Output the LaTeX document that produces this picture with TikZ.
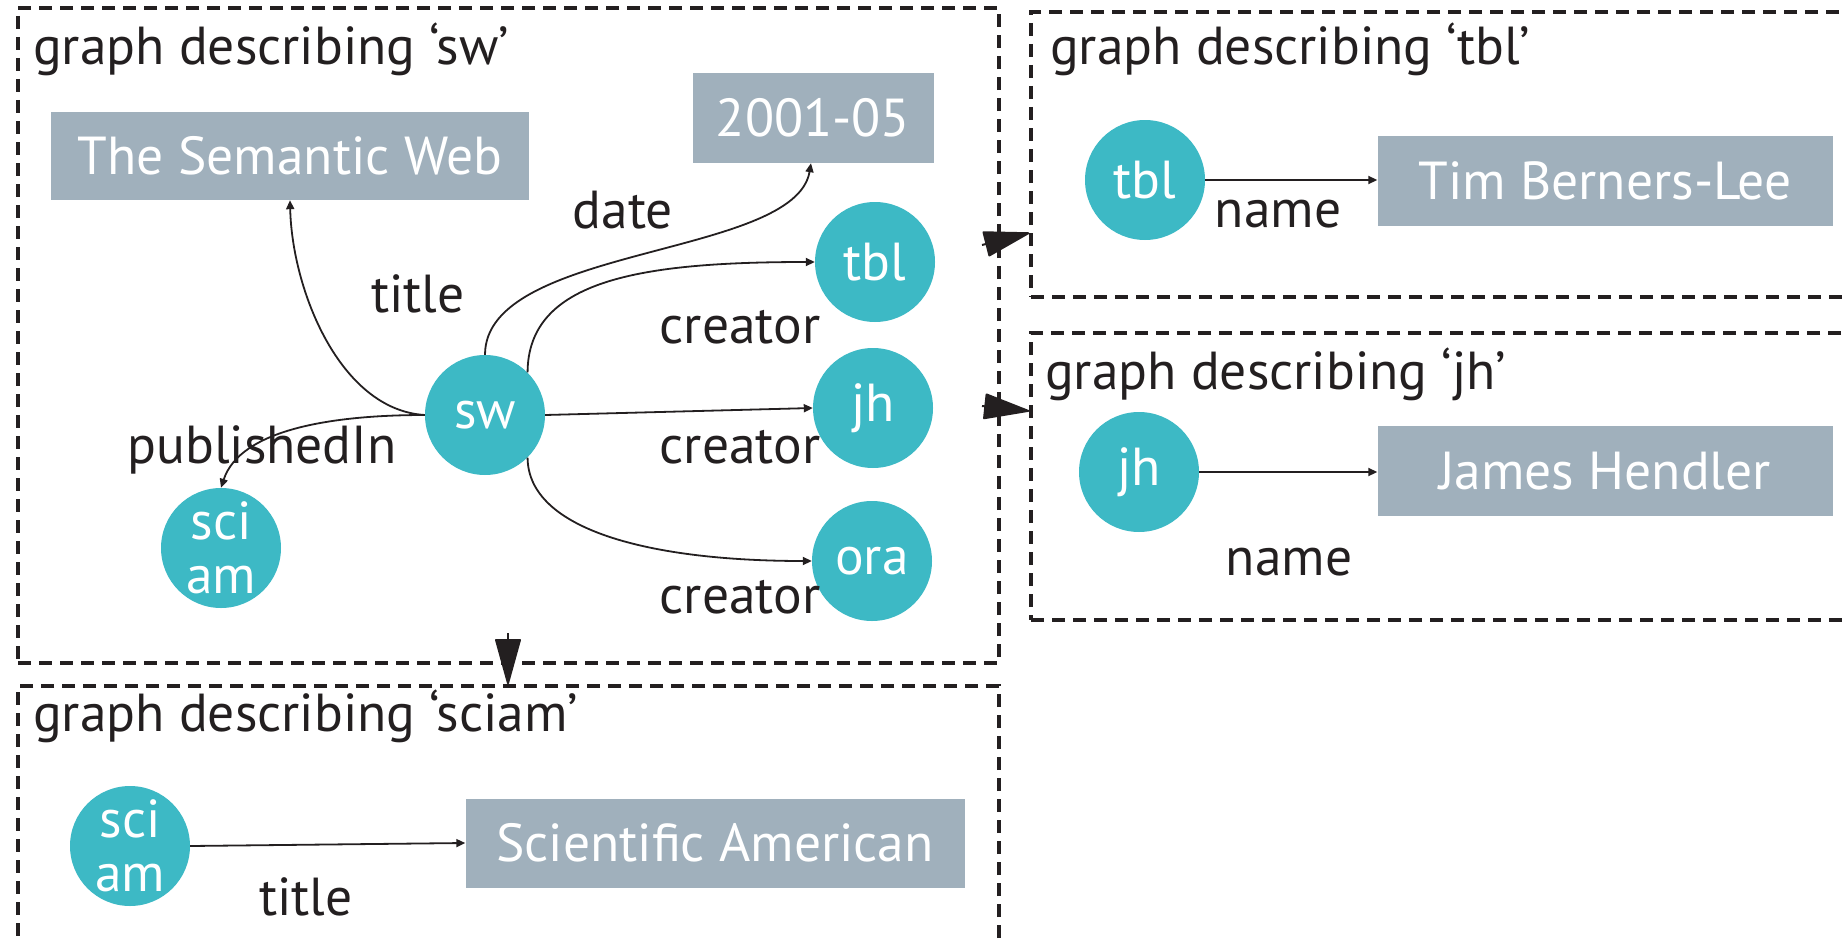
\documentclass[tikz,border=0pt]{standalone}
\usepackage{fontspec}
\setmainfont{PT Sans}
\usetikzlibrary{arrows.meta}
\definecolor{ink}{HTML}{231F20}
\definecolor{rescol}{HTML}{3DB9C5}
\definecolor{litcol}{HTML}{A0B0BC}
\begin{document}
\begin{tikzpicture}[x=1pt,y=-1pt,
  bigfont/.style={font=\fontsize{53.5}{58}\selectfont},
  res/.style={circle, fill=rescol, minimum size=120pt, inner sep=0pt,
    text=white, bigfont, align=center},
  lit/.style={rectangle, fill=litcol, inner sep=0pt, text=white, bigfont},
  lbl/.style={anchor=base, inner sep=0pt, text=ink, bigfont},
  heading/.style={anchor=base west, inner sep=0pt, text=ink, bigfont},
  graphbox/.style={draw=ink, line width=3.5pt, dash pattern=on 13pt off 8pt,
    inner sep=0pt},
  rel/.style={draw=ink, line width=1.8pt, -{Triangle[length=9pt,width=8pt]}},
  wedge/.style={draw=ink, fill=ink, line width=2pt, line join=round,
    -{Triangle[length=48pt,width=26pt,round]}},
]
\clip (0,0) rectangle (1847,942);

% named graph containers
\node[graphbox, minimum width=981pt, minimum height=655pt] (swg) at (508.5,335.5) {};
\node[graphbox, minimum width=860pt, minimum height=285pt] (tblg) at (1461,154.5) {};
\node[graphbox, minimum width=860pt, minimum height=287pt] (jhg) at (1461,476.5) {};
\node[graphbox, minimum width=981pt, minimum height=300pt] (scg) at (508.5,836) {};

\node[heading] at (33,65) {graph describing ‘sw’};
\node[heading] at (1050,65) {graph describing ‘tbl’};
\node[heading] at (1045,389) {graph describing ‘jh’};
\node[heading] at (33,731) {graph describing ‘sciam’};

% graph describing sw
\node[lit, minimum width=478pt, minimum height=88pt] (semweb) at (290,156) {The Semantic Web};
\node[lit, minimum width=241pt, minimum height=90pt] (date) at (813,118) {2001-05};
\node[res] (sw) at (485,415) {sw};
\node[res] (tbl) at (875,262) {tbl};
\node[res] (jh) at (873,408) {jh};
\node[res] (ora) at (872,561) {ora};
\node[res] (sciam) at (221,548) {sci\\[-4pt]am};

\draw[rel] (sw.north) .. controls (485,245) and (795,258) .. (date.south -| 811,0);
\draw[rel] (sw.45) .. controls (528,280) and (640,262) .. (tbl.west);
\draw[rel] (sw.east) -- (jh.west);
\draw[rel] (sw.-45) .. controls (528,530) and (650,561) .. (ora.west);
\draw[rel] (sw.west) .. controls (340,410) and (292,290) .. (semweb.south);
\draw[rel] (sw.west) .. controls (330,415) and (240,430) .. (sciam.north);

\node[lbl] at (623,228) {date};
\node[lbl] at (418,312) {title};
\node[lbl] at (740,343) {creator};
\node[lbl] at (740,463) {creator};
\node[lbl] at (740,613) {creator};
\node[lbl] at (262,463) {publishedIn};

% graph describing tbl
\node[res] (tblB) at (1145,180) {tbl};
\node[lit, minimum width=455pt, minimum height=90pt] (tbname) at (1605,181) {Tim Berners-Lee};
\draw[rel] (tblB.east) -- (tbname.west |- tblB.east);
\node[lbl] at (1278,227) {name};

% graph describing jh
\node[res] (jhB) at (1139,472) {jh};
\node[lit, minimum width=455pt, minimum height=90pt] (jhname) at (1605,471) {James Hendler};
\draw[rel] (jhB.east) -- (jhname.west |- jhB.east);
\node[lbl] at (1289,575) {name};

% graph describing sciam
\node[res] (sciamB) at (130,846) {sci\\[-4pt]am};
\node[lit, minimum width=499pt, minimum height=89pt] (scname) at (715,843) {Scientific American};
\draw[rel] (sciamB.east) -- (scname.west);
\node[lbl] at (306,915) {title};

% links between the graphs
\coordinate (w1) at (982,245);
\coordinate (w2) at (982,406);
\coordinate (w3) at (508,633);
\draw[wedge] (w1) -- (tblg.west |- 0,233);
\draw[wedge] (w2) -- (jhg.west |- 0,411);
\draw[wedge] (w3) -- (scg.north -| 508,0);
\end{tikzpicture}
\end{document}
